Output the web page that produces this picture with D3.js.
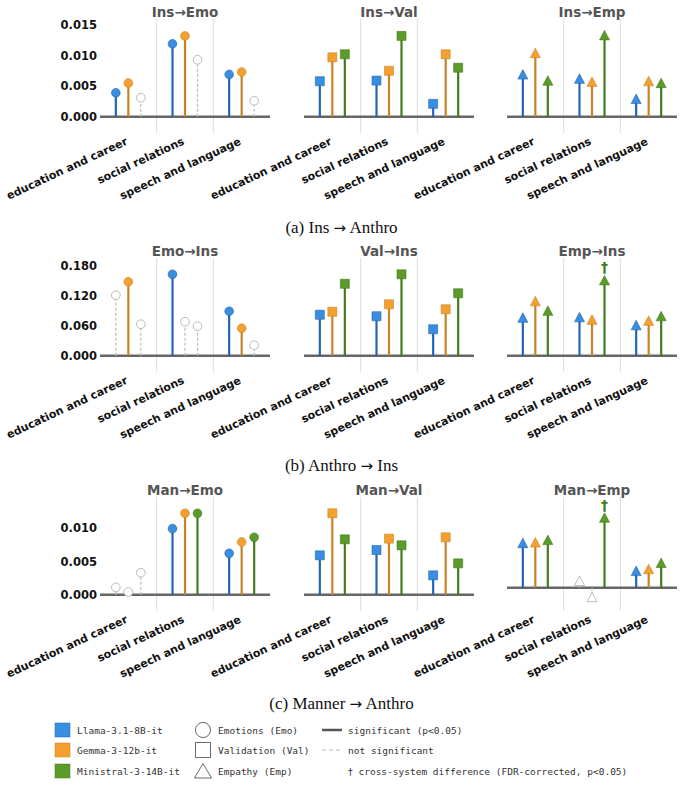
<!DOCTYPE html>
<html>
<head>
<meta charset="utf-8">
<script src="https://cdn.jsdelivr.net/npm/d3@7"></script>
<style>
  body { margin: 0; background: #fff; }
  svg { display: block; }
</style>
</head>
<body>
<div id="main"></div>
<script>
// categories and systems
const categories = ["education and career", "social relations", "speech and language"];
const models = ["Llama-3.1-8B-it", "Gemma-3-12b-it", "Ministral-3-14B-it"];

// values[category][model]
const insEmo = [[0.0039, 0.0055, 0.0031], [0.0119, 0.0132, 0.0093], [0.0069, 0.0073, 0.0026]];
const insEmoSig = [[1, 1, 0], [1, 1, 0], [1, 1, 0]];
const insVal = [[0.0058, 0.0097, 0.0102], [0.0059, 0.0075, 0.0132], [0.0021, 0.0102, 0.0080]];
const insEmp = [[0.0069, 0.0104, 0.0059], [0.0062, 0.0057, 0.0133], [0.0029, 0.0058, 0.0055]];

const emoIns = [[0.121, 0.148, 0.063], [0.163, 0.068, 0.059], [0.089, 0.055, 0.021]];
const emoInsSig = [[0, 1, 0], [1, 0, 0], [1, 1, 0]];
const valIns = [[0.082, 0.088, 0.144], [0.079, 0.103, 0.163], [0.053, 0.093, 0.125]];
const empIns = [[0.076, 0.109, 0.090], [0.077, 0.072, 0.151], [0.061, 0.070, 0.079]];
const empInsDagger = [[1, 2]];

const manEmo = [[0.0011, 0.0004, 0.0033], [0.0099, 0.0122, 0.0122], [0.0062, 0.0079, 0.0086]];
const manEmoSig = [[0, 0, 0], [1, 1, 1], [1, 1, 1]];
const manVal = [[0.0059, 0.0122, 0.0083], [0.0067, 0.0084, 0.0074], [0.0029, 0.0086, 0.0047]];
const manEmp = [[0.0072, 0.0073, 0.0077], [0.0011, -0.0015, 0.0113], [0.0027, 0.0030, 0.0040]];
const manEmpSig = [[1, 1, 1], [0, 0, 1], [1, 1, 1]];
const manEmpDagger = [[1, 2]];

const allSig = [[1, 1, 1], [1, 1, 1], [1, 1, 1]];

const yTicksA = [0, 0.005, 0.010, 0.015];
const yTicksB = [0, 0.060, 0.120, 0.180];
const yTicksC = [0, 0.005, 0.010];

// caption parts: before arrow, after arrow
const captions = [["(a) Ins ", " Anthro"], ["(b) Anthro ", " Ins"], ["(c) Manner ", " Anthro"]];

const shapeNames = ["Emotions (Emo)", "Validation (Val)", "Empathy (Emp)"];
const lineNames = ["significant (p<0.05)", "not significant", " cross-system difference (FDR-corrected, p<0.05)"];

const fillColors = ["#3a8ee0", "#f4a030", "#5c9a2a"];
const stemColors = ["#2266b3", "#c98222", "#437c1c"];
const nsColor = "#bbbbbb";

const rows = [
  { caption: captions[0], ticks: yTicksA, panels: [
    { title: "Ins\u2192Emo", shape: "circle", values: insEmo, sig: insEmoSig, dagger: [] },
    { title: "Ins\u2192Val", shape: "square", values: insVal, sig: allSig, dagger: [] },
    { title: "Ins\u2192Emp", shape: "triangle", values: insEmp, sig: allSig, dagger: [] } ] },
  { caption: captions[1], ticks: yTicksB, panels: [
    { title: "Emo\u2192Ins", shape: "circle", values: emoIns, sig: emoInsSig, dagger: [] },
    { title: "Val\u2192Ins", shape: "square", values: valIns, sig: allSig, dagger: [] },
    { title: "Emp\u2192Ins", shape: "triangle", values: empIns, sig: allSig, dagger: empInsDagger } ] },
  { caption: captions[2], ticks: yTicksC, panels: [
    { title: "Man\u2192Emo", shape: "circle", values: manEmo, sig: manEmoSig, dagger: [] },
    { title: "Man\u2192Val", shape: "square", values: manVal, sig: allSig, dagger: [] },
    { title: "Man\u2192Emp", shape: "triangle", values: manEmp, sig: manEmpSig, dagger: manEmpDagger } ] }
];

const W = 683, H = 785;
const panelX = [100, 304, 507];
const panelW = 170;
const rowTop = [19, 258, 497];
const panelH = 114;
const captionY = [233, 471, 709];

const svg = d3.select("#main").append("svg")
  .attr("width", W).attr("height", H)
  .style("font-family", "'DejaVu Sans', sans-serif");

function markerPath(shape) {
  if (shape == "circle") return d3.symbol(d3.symbolCircle, 60)();
  if (shape == "square") return d3.symbol(d3.symbolSquare, 81)();
  // matplotlib-like triangle centred on its bounding box
  return "M0,-4.9L5,4.6L-5,4.6Z";
}

rows.forEach((row, r) => {
  const rowMax = d3.max(row.panels, p => d3.max(p.values.flat()));

  row.panels.forEach((p, k) => {
    const g = svg.append("g")
      .attr("transform", "translate(" + panelX[k] + "," + rowTop[r] + ")");

    const pMin = d3.min(p.values.flat());
    const lo = Math.min(-0.2 * rowMax, 2.5 * pMin);
    const y = d3.scaleLinear().domain([lo, 1.2 * rowMax]).range([panelH, 0]);

    const x = d3.scaleBand().domain(categories).range([0, panelW]).padding(0);
    const xm = d3.scalePoint().domain(models).range([-12.5, 12.5]);

    // category separators
    g.selectAll(".sep")
      .data(categories.slice(1))
      .enter().append("line")
        .attr("x1", d => x(d)).attr("x2", d => x(d))
        .attr("y1", 0).attr("y2", panelH)
        .attr("stroke", "#dddddd").attr("stroke-width", 1);

    // y axis only on the first panel
    if (k == 0) {
      const yAxis = g.append("g")
        .call(d3.axisLeft(y).tickValues(row.ticks).tickSize(0).tickPadding(3).tickFormat(d3.format(".3f")));
      yAxis.select(".domain").remove();
      yAxis.selectAll("text")
        .attr("font-size", 11.5).attr("font-weight", "bold")
        .attr("font-family", "'DejaVu Sans', sans-serif").attr("fill", "#111");
    }

    // x tick labels, rotated
    g.selectAll(".xlab")
      .data(categories)
      .enter().append("text")
        .attr("transform", d => "translate(" + (x(d) + x.bandwidth() / 2) + "," + (panelH + 11) + ") rotate(-25)")
        .attr("text-anchor", "end")
        .attr("font-size", 11).attr("font-weight", "bold").attr("fill", "#111")
        .text(d => d);

    // title
    g.append("text")
      .attr("x", panelW / 2).attr("y", -2)
      .attr("text-anchor", "middle")
      .attr("font-size", 13.5).attr("font-weight", "bold").attr("fill", "#555")
      .text(p.title);

    // baseline
    g.append("line")
      .attr("x1", 0).attr("x2", panelW)
      .attr("y1", y(0)).attr("y2", y(0))
      .attr("stroke", "#666").attr("stroke-width", 2.5);

    const pts = [];
    categories.forEach((c, ci) => {
      models.forEach((m, mi) => {
        pts.push({ c: c, m: m, mi: mi, v: p.values[ci][mi], sig: p.sig[ci][mi] == 1,
          dag: p.dagger.some(d => d[0] == ci && d[1] == mi) });
      });
    });
    const px = d => x(d.c) + x.bandwidth() / 2 + xm(d.m);

    // stems
    g.selectAll(".stem")
      .data(pts)
      .enter().append("line")
        .attr("x1", px).attr("x2", px)
        .attr("y1", y(0)).attr("y2", d => y(d.v))
        .attr("stroke", d => d.sig ? stemColors[d.mi] : nsColor)
        .attr("stroke-width", d => d.sig ? 2.2 : 1.2)
        .attr("stroke-dasharray", d => d.sig ? null : "3,2");

    // markers
    g.selectAll(".mark")
      .data(pts)
      .enter().append("path")
        .attr("d", markerPath(p.shape))
        .attr("transform", d => "translate(" + px(d) + "," + y(d.v) + ")")
        .attr("fill", d => d.sig ? fillColors[d.mi] : "#fff")
        .attr("stroke", d => d.sig ? stemColors[d.mi] : nsColor)
        .attr("stroke-opacity", d => d.sig ? 0.6 : 1)
        .attr("stroke-width", 1);

    // cross-system daggers
    g.selectAll(".dag")
      .data(pts.filter(d => d.dag))
      .enter().append("text")
        .attr("x", px).attr("y", d => y(d.v) - 8)
        .attr("text-anchor", "middle")
        .attr("font-size", 14).attr("font-weight", "bold")
        .attr("fill", d => stemColors[d.mi])
        .text("\u2020");
  });

  // caption with a wide math-style arrow
  const cap = svg.append("text")
    .attr("x", W / 2).attr("y", captionY[r])
    .attr("text-anchor", "middle")
    .attr("font-family", "'Liberation Serif', serif")
    .attr("font-size", 17).attr("fill", "#111");
  cap.append("tspan").text(row.caption[0]);
  cap.append("tspan").attr("font-family", "'DejaVu Sans', sans-serif").attr("font-size", 15).text("\u2192");
  cap.append("tspan").text(row.caption[1]);
});

// legend
const legY = [730, 750, 771];
const leg = svg.append("g")
  .attr("font-family", "'DejaVu Sans Mono', monospace")
  .attr("font-size", 9.5);

models.forEach((m, i) => {
  leg.append("rect")
    .attr("x", 55).attr("y", legY[i] - 7).attr("width", 15).attr("height", 14)
    .attr("fill", fillColors[i]).attr("stroke", stemColors[i]).attr("stroke-opacity", 0.5);
  leg.append("text")
    .attr("x", 77).attr("y", legY[i]).attr("dominant-baseline", "central")
    .style("fill", "#333").text(m);
});

const legShapes = [
  d3.symbol(d3.symbolCircle, 180)(),
  "M-7.5,-7.5H7.5V7.5H-7.5Z",
  "M0,-7.5L8.5,7L-8.5,7Z"
];
shapeNames.forEach((s, i) => {
  leg.append("path")
    .attr("d", legShapes[i])
    .attr("transform", "translate(203," + legY[i] + ")")
    .attr("fill", "none").attr("stroke", "#444").attr("stroke-width", 0.8);
  leg.append("text")
    .attr("x", 218).attr("y", legY[i]).attr("dominant-baseline", "central")
    .style("fill", "#333").text(s);
});

leg.append("line")
  .attr("x1", 322).attr("x2", 342).attr("y1", legY[0]).attr("y2", legY[0])
  .attr("stroke", "#555").attr("stroke-width", 2.5);
leg.append("line")
  .attr("x1", 322).attr("x2", 342).attr("y1", legY[1]).attr("y2", legY[1])
  .attr("stroke", "#bbb").attr("stroke-width", 1.2).attr("stroke-dasharray", "4,3");
lineNames.forEach((s, i) => {
  const t = leg.append("text")
    .attr("x", 348).attr("y", legY[i]).attr("dominant-baseline", "central")
    .style("fill", "#333").attr("xml:space", "preserve");
  // the last entry starts with a dagger mark
  if (i == 2) {
    t.append("tspan").attr("font-family", "'DejaVu Sans', sans-serif").style("fill", "#333").text("\u2020");
  }
  t.append("tspan").style("white-space", "pre").text(s);
});
</script>
</body>
</html>
